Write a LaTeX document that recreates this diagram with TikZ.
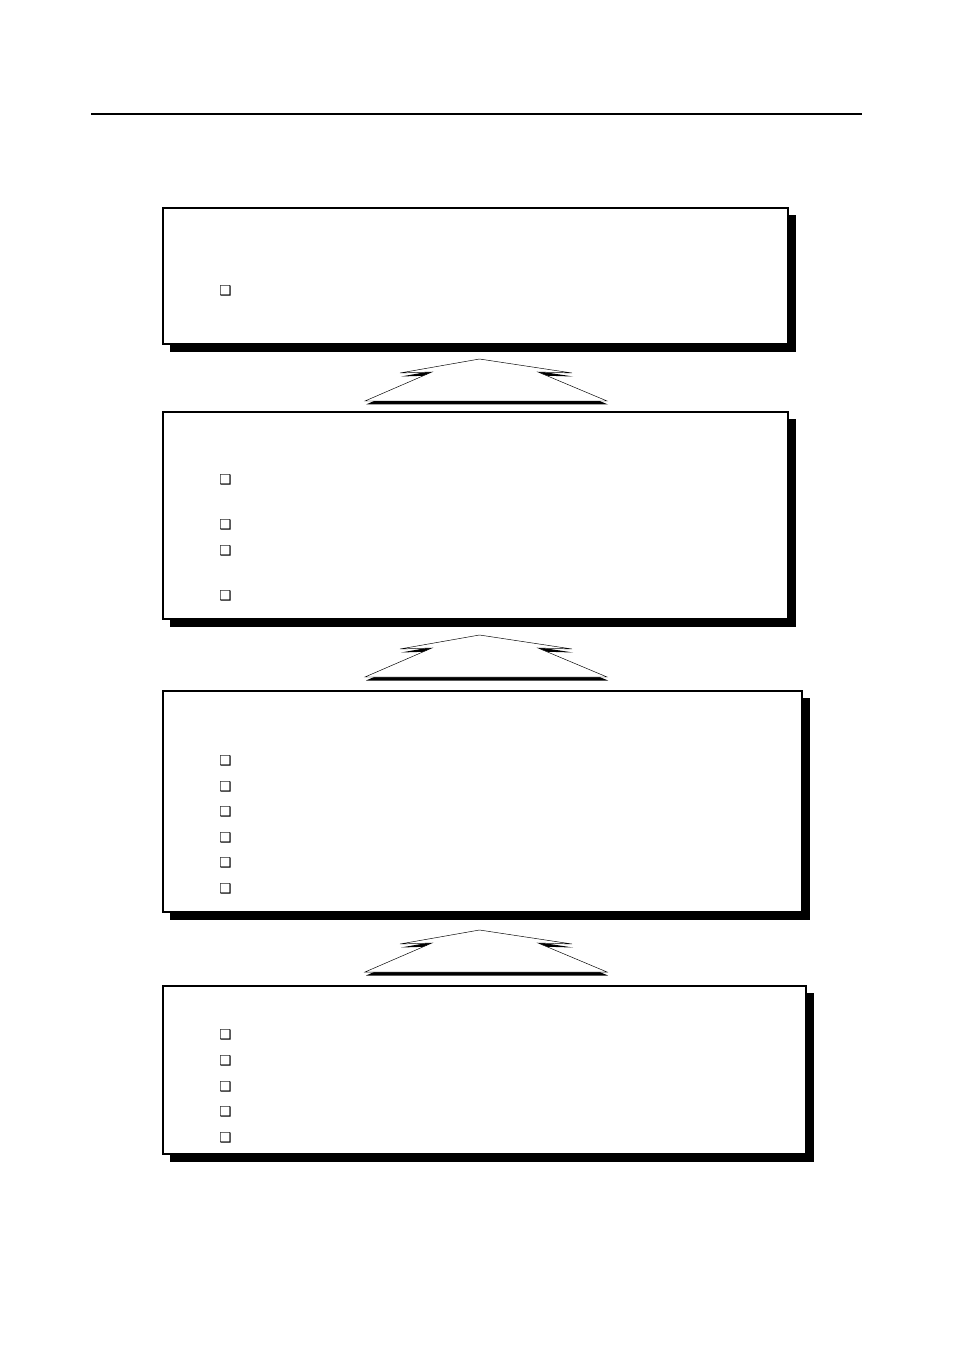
\documentclass[tikz,border=0pt]{standalone}
\usepackage{fontspec}
\newfontfamily\dingfont{DejaVu Sans}
\usepackage{tikz}

\tikzset{
  panel/.style={draw=black, line width=0.75pt, fill=white},
  panelshadow/.style={fill=black, draw=none},
  uparrow/.style={draw=black, line width=0.3pt, fill=white},
  arrowshadow/.style={fill=black, draw=none},
  bullet/.style={inner sep=0pt, font=\dingfont\fontsize{8.5}{9}\selectfont}
}

\begin{document}
\begin{tikzpicture}[x=0.624pt,y=0.624pt,yscale=-1,xscale=1]
\useasboundingbox (0,0) rectangle (954,1351);

\draw [line width=1.2pt] (91,114) -- (862,114);

% panels
\fill [panelshadow] (170,215) rectangle (796,352);
\draw [panel] (163,208) rectangle (788,344);
\fill [panelshadow] (170,419) rectangle (796,627);
\draw [panel] (163,412) rectangle (788,619);
\fill [panelshadow] (170,698) rectangle (810,920);
\draw [panel] (163,691) rectangle (802,912);
\fill [panelshadow] (170,993) rectangle (814,1162);
\draw [panel] (163,986) rectangle (806,1154);

% arrows between panels
\fill [arrowshadow] (480.5,362.5) -- (573,376.5) -- (539,375.5) -- (608,404.5) -- (366,404.5) -- (433,375.5) -- (401,376.5) -- cycle ;
\draw [uparrow] (479.5,359) -- (572,373) -- (538,372) -- (607,401) -- (365,401) -- (432,372) -- (400,373) -- cycle ;
\fill [arrowshadow] (480.5,638.5) -- (573,652.5) -- (539,651.5) -- (608,680.5) -- (366,680.5) -- (433,651.5) -- (401,652.5) -- cycle ;
\draw [uparrow] (479.5,635) -- (572,649) -- (538,648) -- (607,677) -- (365,677) -- (432,648) -- (400,649) -- cycle ;
\fill [arrowshadow] (480.5,933.5) -- (573,947.5) -- (539,946.5) -- (608,975.5) -- (366,975.5) -- (433,946.5) -- (401,947.5) -- cycle ;
\draw [uparrow] (479.5,930) -- (572,944) -- (538,943) -- (607,972) -- (365,972) -- (432,943) -- (400,944) -- cycle ;

% bullets
\node [bullet] (b11) at (225.5,290.5) {❑};

\node [bullet] (b21) at (225.5,479.5) {❑};
\node [bullet] (b22) at (225.5,524.5) {❑};
\node [bullet] (b23) at (225.5,550.5) {❑};
\node [bullet] (b24) at (225.5,595.5) {❑};

\node [bullet] (b31) at (225.5,760.5) {❑};
\node [bullet] (b32) at (225.5,786.5) {❑};
\node [bullet] (b33) at (225.5,811.5) {❑};
\node [bullet] (b34) at (225.5,837.5) {❑};
\node [bullet] (b35) at (225.5,862.5) {❑};
\node [bullet] (b36) at (225.5,888.5) {❑};

\node [bullet] (b41) at (225.5,1034.5) {❑};
\node [bullet] (b42) at (225.5,1060.5) {❑};
\node [bullet] (b43) at (225.5,1086.5) {❑};
\node [bullet] (b44) at (225.5,1111.5) {❑};
\node [bullet] (b45) at (225.5,1137.5) {❑};

\end{tikzpicture}
\end{document}
